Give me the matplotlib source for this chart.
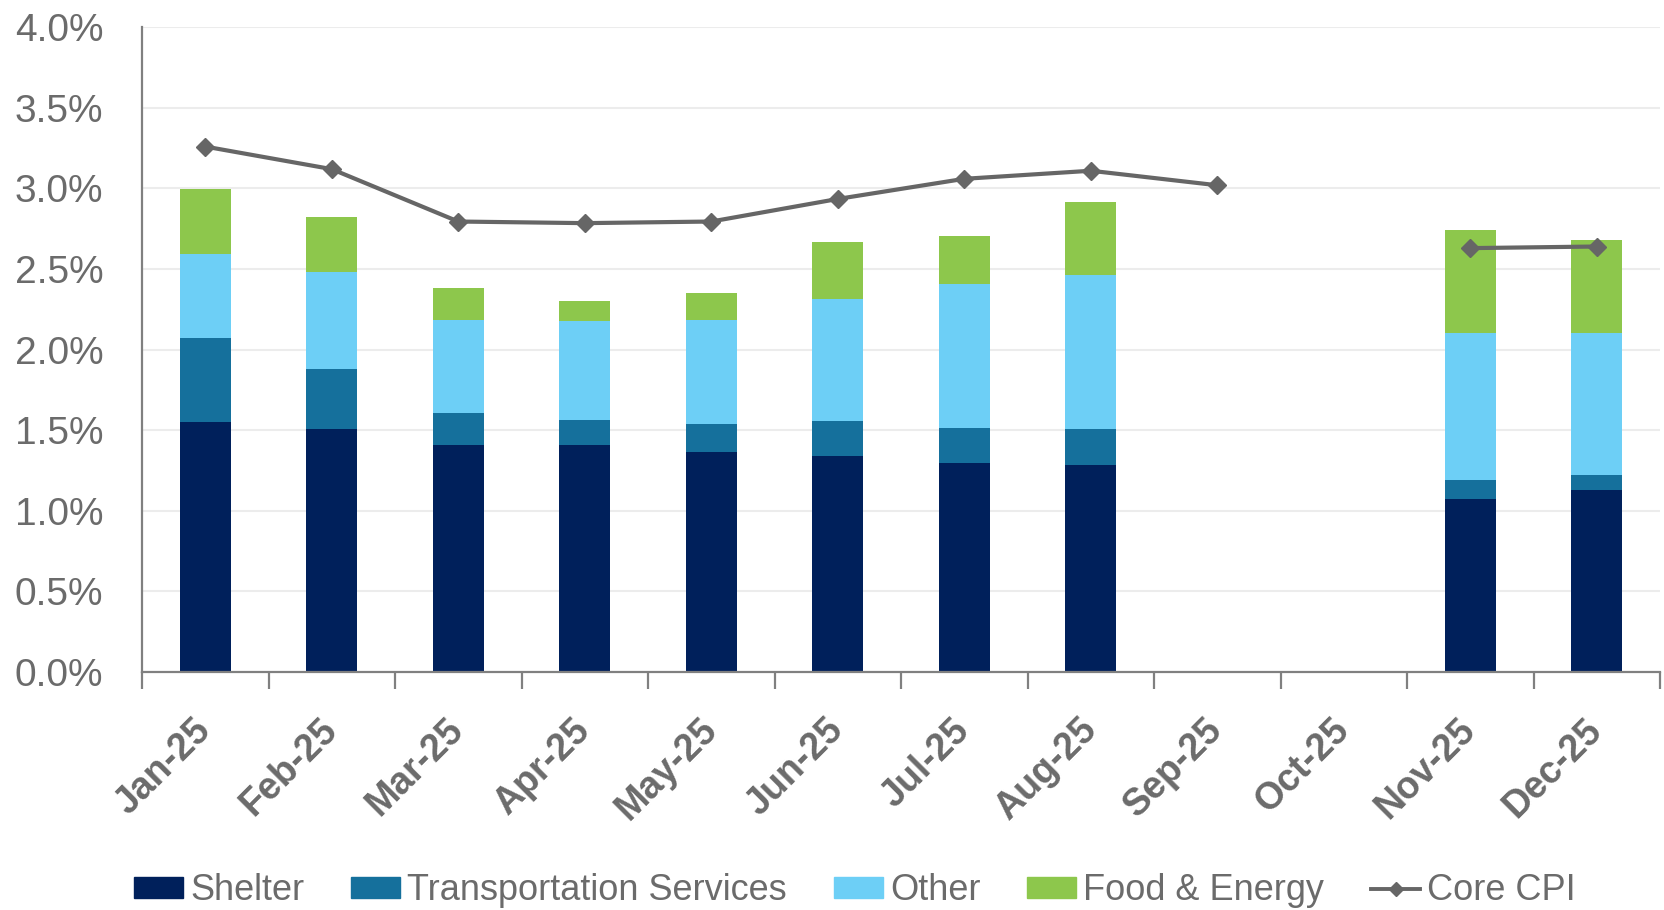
import numpy as np
import matplotlib
matplotlib.use("Agg")
import matplotlib.pyplot as plt
from matplotlib.ticker import FuncFormatter
from matplotlib.patches import Patch
from matplotlib.lines import Line2D

months = ["Jan-25", "Feb-25", "Mar-25", "Apr-25", "May-25", "Jun-25",
          "Jul-25", "Aug-25", "Sep-25", "Oct-25", "Nov-25", "Dec-25"]
nan = np.nan
shelter = [1.55, 1.505, 1.41, 1.41, 1.365, 1.34, 1.295, 1.285, nan, nan, 1.075, 1.13]
transportation = [0.52, 0.375, 0.20, 0.155, 0.175, 0.215, 0.22, 0.22, nan, nan, 0.115, 0.095]
other = [0.525, 0.60, 0.575, 0.615, 0.645, 0.76, 0.895, 0.96, nan, nan, 0.915, 0.88]
food_energy = [0.40, 0.34, 0.20, 0.125, 0.165, 0.35, 0.295, 0.45, nan, nan, 0.635, 0.575]
core_cpi = [3.26, 3.12, 2.795, 2.785, 2.795, 2.935, 3.06, 3.11, 3.02, nan, 2.63, 2.64]

plt.rcParams['font.family'] = ['Liberation Sans', 'DejaVu Sans']

C_SHELTER = '#00205b'
C_TRANS = '#15709c'
C_OTHER = '#6dcff6'
C_FOOD = '#8dc74c'
C_CORE = '#666666'
TXT = '#6b6b6b'

fig = plt.figure(figsize=(16.65, 9.1), dpi=100)
ax = fig.add_axes([0.0853, 0.2615, 0.9117, 0.7085])

x = np.arange(len(months))
s = np.nan_to_num(np.array(shelter))
t = np.nan_to_num(np.array(transportation))
o = np.nan_to_num(np.array(other))
f = np.nan_to_num(np.array(food_energy))
w = 0.40
ax.bar(x, s, w, color=C_SHELTER, zorder=2)
ax.bar(x, t, w, bottom=s, color=C_TRANS, zorder=2)
ax.bar(x, o, w, bottom=s + t, color=C_OTHER, zorder=2)
ax.bar(x, f, w, bottom=s + t + o, color=C_FOOD, zorder=2)
ax.plot(x, core_cpi, color=C_CORE, lw=3.0, marker='D', ms=9, zorder=3)

ax.set_xlim(-0.5, len(months) - 0.5)
ax.set_ylim(0, 4.0)
ax.set_yticks(np.arange(0, 4.01, 0.5))
ax.yaxis.set_major_formatter(FuncFormatter(lambda v, p: f"{v:.1f}%"))
ax.grid(axis='y', color='#ececec', lw=1.5, zorder=0)
ax.set_axisbelow(True)

for sp in ['top', 'right']:
    ax.spines[sp].set_visible(False)
for sp in ['left', 'bottom']:
    ax.spines[sp].set_color('#808080')
    ax.spines[sp].set_linewidth(1.6)

ax.tick_params(axis='y', length=0, pad=28, labelsize=28, labelcolor=TXT)
ax.set_xticks(np.arange(-0.5, len(months), 1.0))
ax.set_xticklabels([])
ax.tick_params(axis='x', which='major', length=12, width=1.6, color='#808080')
ax.set_xticks(x, minor=True)
ax.set_xticklabels(months, minor=True, rotation=45, ha='right', va='center',
                   rotation_mode='anchor', fontsize=27, fontweight='bold', color=TXT)
ax.tick_params(axis='x', which='minor', length=0, pad=38)

handles = [Patch(color=C_SHELTER, label='Shelter'),
           Patch(color=C_TRANS, label='Transportation Services'),
           Patch(color=C_OTHER, label='Other'),
           Patch(color=C_FOOD, label='Food & Energy'),
           Line2D([], [], color=C_CORE, lw=2.8, marker='D', ms=7, label='Core CPI')]
leg = fig.legend(handles=handles, loc='center', bbox_to_anchor=(0.5135, 0.021), ncol=5,
                 frameon=False, fontsize=26, handlelength=1.35, handleheight=0.55,
                 handletextpad=0.2, columnspacing=1.3, borderaxespad=0, borderpad=0)
for txt in leg.get_texts():
    txt.set_color(TXT)

fig.savefig('out.png', dpi=100)
